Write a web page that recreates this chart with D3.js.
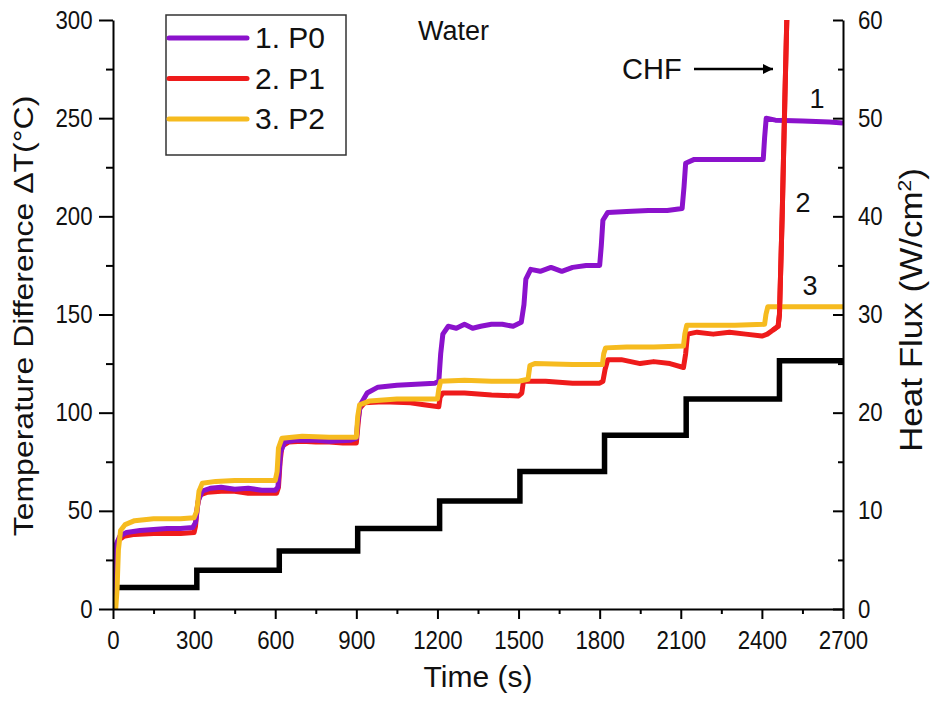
<!DOCTYPE html>
<html>
<head>
<meta charset="utf-8">
<script src="https://cdn.jsdelivr.net/npm/d3@7"></script>
<style>
  body { margin: 0; background: #fff; }
  svg { display: block; font-family: "Liberation Sans", Arial, sans-serif; }
  .axis path, .axis line { stroke: #000; stroke-width: 2; }
  .axis text { fill: #111; font-size: 25px; }
</style>
</head>
<body>
<div id="chart"></div>
<script>
// time (s), temperature difference (°C)
const p0 = [[0,0],[5,20],[12,33],[25,37],[50,39],[100,40],[150,40.5],[200,41],[250,41],[295,41.5],[305,44],[315,55],[330,60],[360,61.5],[400,62],[450,61],[500,61.5],[550,60.5],[600,60.5],[610,62],[620,80],[635,85],[680,86],[750,86],[800,85.5],[880,86],[900,87],[905,95],[915,104],[940,110],[980,113],[1050,114],[1120,114.5],[1190,115],[1205,116],[1212,130],[1220,140],[1240,144],[1270,143],[1300,145],[1330,143],[1360,144],[1400,145],[1440,145],[1480,144],[1510,146],[1520,155],[1527,168],[1545,173],[1580,172],[1620,174],[1660,172],[1700,174],[1750,175],[1800,175],[1806,185],[1812,198],[1830,202],[1900,202.5],[1980,203],[2050,203],[2105,204],[2112,215],[2118,227],[2150,229],[2250,229],[2350,229],[2405,229],[2410,240],[2416,250],[2450,249],[2550,248.5],[2650,248],[2700,247.5]];
const p1 = [[0,0],[4,18],[10,30],[20,35],[40,37],[80,38],[150,38.5],[200,38.5],[250,38.5],[300,39],[305,42],[312,52],[320,58],[350,59.5],[400,60],[450,60],[500,59],[550,59],[605,59],[612,62],[618,75],[625,83],[650,85],[700,85.5],[750,85],[800,85],[850,84.5],[900,84.5],[905,92],[912,102],[930,105],[1000,105.5],[1100,105],[1150,104],[1205,103],[1210,108],[1220,110],[1300,110],[1400,109],[1500,108.5],[1512,110],[1518,116],[1540,116],[1600,116],[1700,115],[1800,115],[1812,116],[1820,122],[1830,127],[1880,127],[1950,125],[2000,126],[2060,125],[2110,123],[2118,130],[2125,140],[2160,141],[2220,140],[2280,141],[2340,140],[2400,139],[2420,140],[2440,142],[2460,144],[2465,150],[2475,200],[2485,260],[2493,305]];
const p2 = [[10,0],[15,10],[20,30],[28,40],[45,43],[80,45],[150,46],[200,46],[250,46],[300,46.5],[310,50],[318,60],[330,64],[380,65],[450,65.5],[520,65.5],[600,65.5],[607,70],[612,82],[625,87],[700,88],[800,87.5],[900,87.5],[905,98],[912,104],[950,106],[1050,107],[1150,107],[1200,107],[1205,112],[1212,116],[1300,116.5],[1400,116],[1500,116],[1535,117],[1542,124],[1560,125],[1700,124.5],[1810,124.5],[1815,130],[1822,133],[1900,133.5],[2000,133.5],[2110,134],[2115,140],[2122,144.5],[2200,144.5],[2300,144.5],[2410,145],[2415,150],[2422,154],[2500,154],[2600,154],[2700,154]];

// heat flux steps (W/cm2), right axis
const fluxTimes = [0, 5, 310, 615, 905, 1208, 1505, 1818, 2120, 2465, 2700];
const fluxValues = [0, 2.2, 3.95, 5.9, 8.2, 11.0, 14.0, 17.7, 21.4, 25.3, 25.3];

const seriesNames = ["1. P0", "2. P1", "3. P2"];
const seriesColors = ["#8b12cc", "#ee1b1b", "#f6bb1f"];

const xTicks = [0, 300, 600, 900, 1200, 1500, 1800, 2100, 2400, 2700];
const xMinor = [150, 450, 750, 1050, 1350, 1650, 1950, 2250, 2550];
const yTicks = [0, 50, 100, 150, 200, 250, 300];
const yMinor = [25, 75, 125, 175, 225, 275];
const y2Ticks = [0, 10, 20, 30, 40, 50, 60];
const y2Minor = [5, 15, 25, 35, 45, 55];

const width = 932, height = 701;
const margin = { top: 20, right: 89, bottom: 92, left: 113 };

const svg = d3.select("#chart").append("svg")
  .attr("width", width).attr("height", height);

const x = d3.scaleLinear().domain([0, 2700]).range([margin.left, width - margin.right]);
const y = d3.scaleLinear().domain([0, 300]).range([height - margin.bottom, margin.top]);
const y2 = d3.scaleLinear().domain([0, 60]).range(y.range());

svg.append("clipPath").attr("id", "plot")
  .append("rect")
  .attr("x", x.range()[0]).attr("y", margin.top)
  .attr("width", x.range()[1] - x.range()[0])
  .attr("height", y.range()[0] - margin.top);

const plot = svg.append("g").attr("clip-path", "url(#plot)");

// heat flux staircase
plot.append("path")
  .datum(d3.zip(fluxTimes, fluxValues))
  .attr("fill", "none")
  .attr("stroke", "#000")
  .attr("stroke-width", 5.5)
  .attr("d", d3.line().curve(d3.curveStepAfter).x((d) => x(d[0])).y((d) => y2(d[1])));

const line = d3.line().x((d) => x(d[0])).y((d) => y(d[1]));
// draw order: red under purple, yellow on top
[[p1, 1], [p0, 0], [p2, 2]].forEach(([data, idx]) => {
  plot.append("path")
    .datum(data)
    .attr("fill", "none")
    .attr("stroke", seriesColors[idx])
    .attr("stroke-width", 5)
    .attr("stroke-linejoin", "round")
    .attr("d", line);
});
// CHF spike of P1 drawn over the others
plot.append("path")
  .datum(p1.slice(-6))
  .attr("fill", "none")
  .attr("stroke", seriesColors[1])
  .attr("stroke-width", 5)
  .attr("d", line);

// axes (labels slightly condensed like the original)
const scaleText = (g) => g.selectAll("text").attr("transform", "scale(0.89,1)");
const fmt = d3.format("d");

svg.append("g").attr("class", "axis")
  .attr("transform", `translate(0,${y.range()[0]})`)
  .call(d3.axisBottom(x).tickValues(xTicks).tickFormat(fmt).tickSize(10).tickSizeOuter(0).tickPadding(12))
  .call(scaleText);
svg.append("g").attr("class", "axis")
  .attr("transform", `translate(0,${y.range()[0]})`)
  .call(d3.axisBottom(x).tickValues(xMinor).tickSize(5).tickFormat(""))
  .call((g) => g.select(".domain").remove());

svg.append("g").attr("class", "axis")
  .attr("transform", `translate(${x.range()[0]},0)`)
  .call(d3.axisLeft(y).tickValues(yTicks).tickFormat(fmt).tickSize(14).tickSizeOuter(0).tickPadding(9))
  .call(scaleText);
svg.append("g").attr("class", "axis")
  .attr("transform", `translate(${x.range()[0]},0)`)
  .call(d3.axisLeft(y).tickValues(yMinor).tickSize(7).tickFormat(""))
  .call((g) => g.select(".domain").remove());

svg.append("g").attr("class", "axis")
  .attr("transform", `translate(${x.range()[1]},0)`)
  .call(d3.axisRight(y2).tickValues(y2Ticks).tickFormat(fmt).tickSize(-10).tickSizeOuter(0).tickPadding(15))
  .call((g) => g.selectAll("text").attr("x", 15 / 0.89))
  .call(scaleText);
svg.append("g").attr("class", "axis")
  .attr("transform", `translate(${x.range()[1]},0)`)
  .call(d3.axisRight(y2).tickValues(y2Minor).tickSize(-5).tickFormat(""))
  .call((g) => g.select(".domain").remove());

// axis titles
svg.append("text")
  .attr("transform", `translate(${(x.range()[0] + x.range()[1]) / 2},687)`)
  .attr("text-anchor", "middle")
  .attr("font-size", 30)
  .attr("fill", "#111")
  .text("Time (s)");

svg.append("text")
  .attr("transform", "translate(33,316) rotate(-90) scale(1,0.88)")
  .attr("text-anchor", "middle")
  .attr("font-size", 32)
  .attr("fill", "#111")
  .text("Temperature Difference ΔT(°C)");

const rTitle = svg.append("text")
  .attr("transform", "translate(922,310) rotate(-90) scale(1,0.88)")
  .attr("text-anchor", "middle")
  .attr("font-size", 35)
  .attr("fill", "#111");
rTitle.append("tspan").text("Heat Flux (W/cm");
rTitle.append("tspan").attr("font-size", 21).attr("dy", -13).text("2");
rTitle.append("tspan").attr("dy", 13).text(")");

// legend
const legend = svg.append("g");
legend.append("rect")
  .attr("x", 166).attr("y", 15).attr("width", 180).attr("height", 140)
  .attr("fill", "#fff").attr("stroke", "#333").attr("stroke-width", 1.5);
seriesNames.forEach((name, i) => {
  const ly = 38 + i * 40.5;
  legend.append("line")
    .attr("x1", 169).attr("x2", 247).attr("y1", ly).attr("y2", ly)
    .attr("stroke", seriesColors[i]).attr("stroke-width", 5).attr("stroke-linecap", "round");
  legend.append("text")
    .attr("x", 255).attr("y", ly + 10)
    .attr("font-size", 30).attr("fill", "#111")
    .text(name);
});

// annotations
svg.append("text").attr("x", 418).attr("y", 40).attr("font-size", 27).attr("fill", "#111").text("Water");
svg.append("text").attr("x", 622).attr("y", 79).attr("font-size", 29).attr("fill", "#111").text("CHF");

svg.append("defs").append("marker")
  .attr("id", "arrow").attr("viewBox", "0 0 10 10")
  .attr("refX", 10).attr("refY", 5)
  .attr("markerWidth", 4).attr("markerHeight", 4)
  .attr("orient", "auto")
  .append("path").attr("d", "M0,0L10,5L0,10z").attr("fill", "#000");
svg.append("line")
  .attr("x1", 694).attr("x2", 773).attr("y1", 69).attr("y2", 69)
  .attr("stroke", "#000").attr("stroke-width", 2.5)
  .attr("marker-end", "url(#arrow)");

[["1", 817, 108], ["2", 803, 212], ["3", 810, 295]].forEach(([t, tx, ty]) => {
  svg.append("text").attr("x", tx).attr("y", ty)
    .attr("text-anchor", "middle").attr("font-size", 27).attr("fill", "#111")
    .text(t);
});
</script>
</body>
</html>
